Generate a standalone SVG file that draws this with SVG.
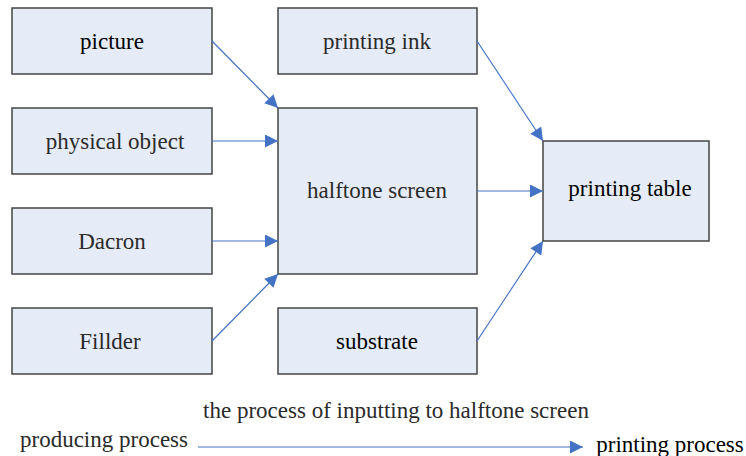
<svg xmlns="http://www.w3.org/2000/svg" width="746" height="456" viewBox="0 0 746 456">
<style>
.box{fill:#E6ECF7;stroke:#444;stroke-width:1.5}
.t{font-family:"Liberation Serif",serif;font-size:23px;fill:#2a2a2a;text-anchor:middle}
.k{fill:#000}
.c{stroke:#4472C4;stroke-width:1.2;fill:none;marker-end:url(#ah)}
</style>
<defs>
<marker id="ah" viewBox="0 0 10 10" refX="10" refY="5" markerWidth="18" markerHeight="13" markerUnits="userSpaceOnUse" orient="auto">
<path d="M0,0L10,5L0,10z" fill="#4472C4"/>
</marker>
</defs>
<rect width="746" height="456" fill="#fff"/>
<g id="picture"><rect class="box" x="12" y="8" width="200" height="66"/><text class="t k" x="112" y="49">picture</text></g>
<g id="physical-object"><rect class="box" x="12" y="108" width="200" height="66"/><text class="t" x="115" y="149">physical object</text></g>
<g id="dacron"><rect class="box" x="12" y="208" width="200" height="66"/><text class="t" x="112" y="249">Dacron</text></g>
<g id="fillder"><rect class="box" x="12" y="308" width="200" height="66"/><text class="t" x="110" y="349">Fillder</text></g>
<g id="printing-ink"><rect class="box" x="278" y="8" width="199" height="66"/><text class="t" x="377" y="49">printing ink</text></g>
<g id="halftone-screen"><rect class="box" x="278" y="108" width="199" height="166"/><text class="t" x="377" y="198">halftone screen</text></g>
<g id="substrate"><rect class="box" x="278" y="308" width="199" height="66"/><text class="t k" x="377" y="349">substrate</text></g>
<g id="printing-table"><rect class="box" x="543" y="141" width="166" height="100"/><text class="t k" x="630" y="196">printing table</text></g>
<g id="connectors">
<line class="c" x1="212" y1="41" x2="278" y2="108"/>
<line class="c" x1="212" y1="141" x2="278" y2="141"/>
<line class="c" x1="212" y1="241" x2="278" y2="241"/>
<line class="c" x1="212" y1="341" x2="278" y2="274"/>
<line class="c" x1="477" y1="41" x2="543" y2="141"/>
<line class="c" x1="477" y1="191" x2="543" y2="191"/>
<line class="c" x1="477" y1="341" x2="543" y2="241"/>
<line class="c" x1="198" y1="447" x2="583" y2="447"/>
</g>
<g id="legend">
<text class="t" x="396" y="418">the process of inputting to halftone screen</text>
<text class="t" x="104" y="447">producing process</text>
<text class="t k" x="670" y="452">printing process</text>
</g>
</svg>
